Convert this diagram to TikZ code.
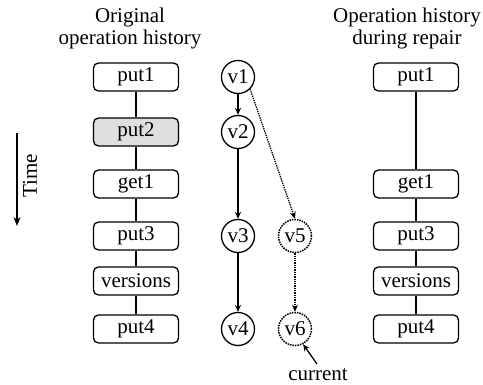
\documentclass[tikz,border=0pt]{standalone}
\usepackage{fontspec}
\setmainfont{Liberation Serif}
\usetikzlibrary{arrows.meta}
\begin{document}
\begin{tikzpicture}[x=1pt,y=-1pt,
  font=\fontsize{21}{23}\selectfont,
  line width=1.3pt,
  opbox/.style={draw, rounded corners=5pt, minimum width=85pt, minimum height=28pt, inner sep=0pt},
  done/.style={opbox, fill=gray!25},
  ver/.style={draw, circle, minimum size=33pt, inner sep=0pt},
  newver/.style={ver, densely dotted, line width=1.5pt},
  link/.style={-},
  flow/.style={-{Stealth[length=7pt,width=6pt]}},
  newflow/.style={flow, densely dotted},
  title/.style={align=center, font=\fontsize{21}{22}\selectfont}
]
\useasboundingbox (0,0) rectangle (483,385);

% column titles
\node[title] (tl) at (130,28) {Original\\operation history};
\node[title] (tr) at (407,28) {Operation history\\during repair};

% time axis
\coordinate (ts) at (17,133);
\coordinate (te) at (17,226);
\draw[-{Stealth[length=9pt,width=7pt]}] (ts) -- (te);
\node[rotate=90] (time) at (30,176) {Time};

% original operation history
\node[opbox] (a1) at (136,77) {put1};
\node[done]  (a2) at (136,132) {put2};
\node[opbox] (a3) at (136,184) {get1};
\node[opbox] (a4) at (136,236) {put3};
\node[opbox] (a5) at (136,281) {versions};
\node[opbox] (a6) at (136,329) {put4};
\draw[link] (a1) -- (a2) -- (a3) -- (a4) -- (a5) -- (a6);

% versions
\node[ver] (v1) at (238,77) {v1};
\node[ver] (v2) at (238,132) {v2};
\node[ver] (v3) at (238,236) {v3};
\node[ver] (v4) at (238,329) {v4};
\node[newver] (v5) at (295,236) {v5};
\node[newver] (v6) at (295,329) {v6};
\draw[flow] (v1) -- (v2);
\draw[flow] (v2) -- (v3);
\draw[flow] (v3) -- (v4);
\draw[newflow] (v1.-45) -- (v5.north);
\draw[newflow] (v5) -- (v6);

\node (cur) at (318,375) {current};
\coordinate (cs) at (317,364);
\draw[flow] (cs) -- (v6.-62);

% history during repair
\node[opbox] (b1) at (416,77) {put1};
\node[opbox] (b3) at (416,184) {get1};
\node[opbox] (b4) at (416,236) {put3};
\node[opbox] (b5) at (416,281) {versions};
\node[opbox] (b6) at (416,329) {put4};
\draw[link] (b1) -- (b3) -- (b4) -- (b5) -- (b6);
\end{tikzpicture}
\end{document}
